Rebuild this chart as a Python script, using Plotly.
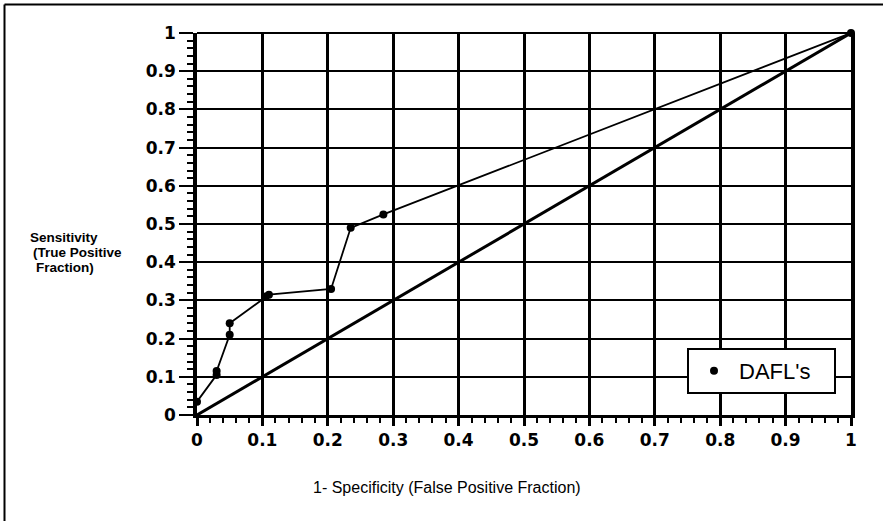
import plotly.graph_objects as go

# ROC operating points for the DAFL's test
fpf = [0.0, 0.03, 0.03, 0.05, 0.05, 0.105, 0.11, 0.205, 0.235, 0.285, 1.0]
tpf = [0.035, 0.105, 0.115, 0.21, 0.24, 0.31, 0.315, 0.33, 0.49, 0.525, 1.0]

# chance line
diag_x = [0.0, 1.0]
diag_y = [0.0, 1.0]

tick_vals = [0, 0.1, 0.2, 0.3, 0.4, 0.5, 0.6, 0.7, 0.8, 0.9, 1]
tick_text = ["0", "0.1", "0.2", "0.3", "0.4", "0.5", "0.6", "0.7", "0.8", "0.9", "1"]

W, H = 883, 521
L, R, T, B = 197, 32, 33, 106
pw, ph = W - L - R, H - T - B


def px(x):
    return (x - L) / pw


def py(y):
    return (H - B - y) / ph


fig = go.Figure()

fig.add_trace(go.Scatter(
    x=diag_x, y=diag_y, mode="lines",
    line=dict(color="black", width=3),
    showlegend=False, hoverinfo="skip", cliponaxis=False,
))

fig.add_trace(go.Scatter(
    x=fpf, y=tpf, mode="lines",
    line=dict(color="black", width=1.8),
    showlegend=False, cliponaxis=False,
))

fig.add_trace(go.Scatter(
    x=fpf, y=tpf, mode="markers", name="DAFL's\u00a0\u00a0\u00a0",
    marker=dict(color="black", size=8),
    cliponaxis=False,
))

tick_font = dict(family="DejaVu Sans", size=17, color="black", weight="bold")

fig.update_xaxes(
    range=[0, 1], tickvals=tick_vals, ticktext=tick_text,
    showgrid=True, gridcolor="black", gridwidth=3,
    zeroline=False, showline=True, linecolor="black", linewidth=3,
    ticks="outside", ticklen=8, tickwidth=3, tickcolor="black",
    minor=dict(dtick=0.02, ticks="outside", ticklen=5, tickwidth=2,
               tickcolor="black", showgrid=False),
    tickfont=tick_font, fixedrange=True,
)
fig.update_yaxes(
    range=[0, 1], tickvals=tick_vals, ticktext=tick_text,
    showgrid=True, gridcolor="black", gridwidth=2,
    zeroline=False, showline=True, linecolor="black", linewidth=3.5,
    mirror=True,
    ticks="outside", ticklen=14, tickwidth=2, tickcolor="black",
    minor=dict(dtick=0.02, ticks="outside", ticklen=6, tickwidth=2,
               tickcolor="black", showgrid=False),
    tickfont=tick_font, fixedrange=True,
)

annotations = [
    dict(text="Sensitivity", x=px(28), y=py(237)),
    dict(text="(True Positive", x=px(31), y=py(252)),
    dict(text="Fraction)", x=px(34), y=py(267)),
]
annotations = [
    dict(a, xref="paper", yref="paper", xanchor="left", yanchor="middle",
         showarrow=False,
         font=dict(family="Liberation Sans", size=13.5, color="black", weight="bold"))
    for a in annotations
]
annotations.append(dict(
    text="1- Specificity (False Positive Fraction)",
    x=px(447), y=py(487), xref="paper", yref="paper",
    xanchor="center", yanchor="middle", showarrow=False,
    font=dict(family="Liberation Sans", size=16, color="black"),
))

# top edge of the plot and outer frame lines
shapes = [
    dict(type="line", xref="paper", yref="paper", x0=0, x1=1, y0=1, y1=1,
         line=dict(color="black", width=2)),
    dict(type="line", xref="paper", yref="paper",
         x0=px(4.5), x1=px(883), y0=py(4.5), y1=py(4.5),
         line=dict(color="black", width=2)),
    dict(type="line", xref="paper", yref="paper",
         x0=px(4.5), x1=px(4.5), y0=py(4.5), y1=py(521),
         line=dict(color="black", width=2)),
]

fig.update_layout(
    width=W, height=H,
    margin=dict(l=L, r=R, t=T, b=B, pad=0),
    paper_bgcolor="white", plot_bgcolor="white",
    font=dict(family="DejaVu Sans", color="black"),
    annotations=annotations, shapes=shapes,
    legend=dict(
        x=px(687), y=py(348), xanchor="left", yanchor="top",
        bgcolor="white", bordercolor="black", borderwidth=2,
        font=dict(family="Liberation Sans", size=22, color="black"),
        itemwidth=40,
    ),
)

fig.write_html("out.html")
